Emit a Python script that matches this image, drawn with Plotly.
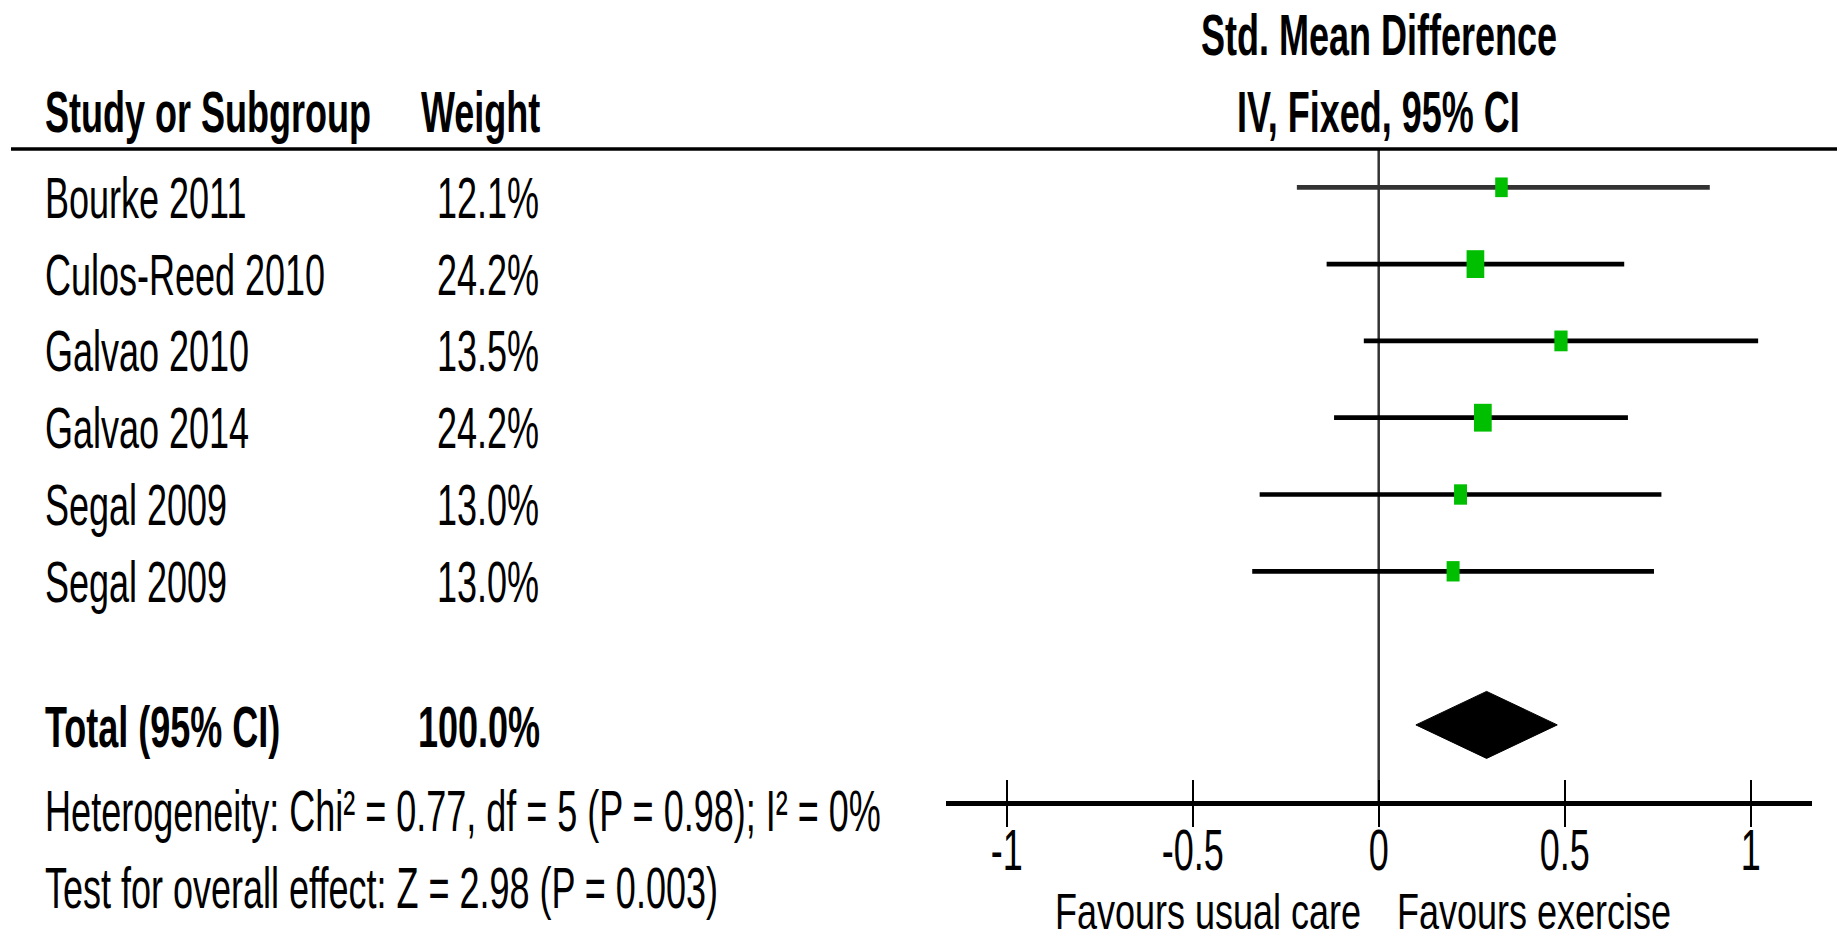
import math
import plotly.graph_objects as go

# ---------------- data ----------------
studies = ["Bourke 2011", "Culos-Reed 2010", "Galvao 2010", "Galvao 2014", "Segal 2009", "Segal 2009"]
weights = [12.1, 24.2, 13.5, 24.2, 13.0, 13.0]
smd = [0.33, 0.26, 0.49, 0.28, 0.22, 0.20]
ci_low = [-0.22, -0.14, -0.04, -0.12, -0.32, -0.34]
ci_high = [0.89, 0.66, 1.02, 0.67, 0.76, 0.74]

total_label = "Total (95% CI)"
total_weight = 100.0
total_smd = 0.29
total_low = 0.10
total_high = 0.48

heterogeneity_text = "Heterogeneity: Chi² = 0.77, df = 5 (P = 0.98); I² = 0%"
overall_text = "Test for overall effect: Z = 2.98 (P = 0.003)"
header_study = "Study or Subgroup"
header_weight = "Weight"
header_effect_1 = "Std. Mean Difference"
header_effect_2 = "IV, Fixed, 95% CI"
tick_vals = [-1, -0.5, 0, 0.5, 1]
tick_text = ["-1", "-0.5", "0", "0.5", "1"]
left_label = "Favours usual care"
right_label = "Favours exercise"

# ---------------- layout geometry / style ----------------
W, H = 1837, 940
X_LEFT_PX, X_RIGHT_PX = 946, 1812
ZERO_PX, UNIT_PX = 1378.7, 372.0
Y_TOP_PX, Y_BOT_PX = 150, 801
ROW0_PX, ROW_PX = 187.3, 76.8
x_range = [(X_LEFT_PX - ZERO_PX) / UNIT_PX, (X_RIGHT_PX - ZERO_PX) / UNIT_PX]
y_range = [(Y_BOT_PX - ROW0_PX) / ROW_PX, (Y_TOP_PX - ROW0_PX) / ROW_PX]
total_row = len(studies) + 1

FONT = "Liberation Sans, Arial, sans-serif"
FS = 36
GREEN = "#00BF00"
line_colors = ["#333333"] + ["#000000"] * (len(studies) - 1)
SQ_PX = 3.6          # square side (px) per sqrt(weight)
SQ_ASPECT = 1.57     # height / width of the weight boxes
DIAMOND_HALF_PX = 33.5


def px_x(p):
    return p / W


def px_y(p):
    return 1 - p / H


fig = go.Figure()

# confidence interval lines
for i in range(len(studies)):
    fig.add_trace(go.Scatter(
        x=[ci_low[i], ci_high[i]], y=[i, i], mode="lines",
        line=dict(color=line_colors[i], width=4.7),
        hoverinfo="skip", showlegend=False))

# weight boxes
for i in range(len(studies)):
    side = SQ_PX * math.sqrt(weights[i])
    hw = side / 2 / UNIT_PX
    hh = side * SQ_ASPECT / 2 / ROW_PX
    c = smd[i]
    fig.add_trace(go.Scatter(
        x=[c - hw, c + hw, c + hw, c - hw, c - hw],
        y=[i - hh, i - hh, i + hh, i + hh, i - hh],
        mode="lines", fill="toself", fillcolor=GREEN,
        line=dict(width=0, color=GREEN),
        hoverinfo="skip", showlegend=False))

# pooled diamond
dh = DIAMOND_HALF_PX / ROW_PX
fig.add_trace(go.Scatter(
    x=[total_low, total_smd, total_high, total_smd, total_low],
    y=[total_row, total_row - dh, total_row, total_row + dh, total_row],
    mode="lines", fill="toself", fillcolor="#000000",
    line=dict(width=1, color="#000000"),
    hoverinfo="skip", showlegend=False))

# empty trace that activates the overlay axis (upward tick marks)
fig.add_trace(go.Scatter(x=[], y=[], xaxis="x2", yaxis="y", showlegend=False))

axis_font = dict(family=FONT, size=FS, color="#000000")
fig.update_layout(
    width=W, height=H, autosize=False,
    margin=dict(l=0, r=0, t=0, b=0),
    paper_bgcolor="white", plot_bgcolor="white",
    showlegend=False,
    xaxis=dict(
        domain=[px_x(X_LEFT_PX), px_x(X_RIGHT_PX)], range=x_range,
        showline=True, linewidth=4.5, linecolor="#000000",
        ticks="outside", ticklen=21, tickwidth=2.3, tickcolor="#000000",
        tickvals=tick_vals, ticktext=tick_text, tickfont=axis_font,
        ticklabelstandoff=-7,
        showgrid=False, zeroline=False, anchor="y", fixedrange=True),
    xaxis2=dict(
        domain=[px_x(X_LEFT_PX), px_x(X_RIGHT_PX)], range=x_range,
        overlaying="x", anchor="y", side="bottom",
        ticks="inside", ticklen=21, tickwidth=2.3, tickcolor="#000000",
        tickvals=tick_vals, showticklabels=False,
        showline=False, showgrid=False, zeroline=False, fixedrange=True),
    yaxis=dict(
        domain=[px_y(Y_BOT_PX), px_y(Y_TOP_PX)], range=y_range,
        visible=False, fixedrange=True),
)

# zero (no-effect) line and header rule
fig.add_shape(type="line", xref="x", yref="y domain", x0=0, x1=0, y0=0, y1=1,
              line=dict(color="#333333", width=2.5), layer="below")
fig.add_shape(type="line", xref="paper", yref="paper", x0=px_x(11), x1=1,
              y0=px_y(149), y1=px_y(149), line=dict(color="#000000", width=3.7))


def note(text, x, y, xanchor="left", xref="paper", yref="paper", yshift=0, xshift=0):
    fig.add_annotation(text=text, x=x, y=y, xref=xref, yref=yref,
                       xanchor=xanchor, yanchor="middle", showarrow=False,
                       xshift=xshift, yshift=yshift, borderpad=0,
                       font=dict(family=FONT, size=FS, color="#000000"))


# headers
note("<b>" + header_study + "</b>", px_x(44), px_y(113))
note("<b>" + header_weight + "</b>", px_x(420), px_y(113))
note("<b>" + header_effect_1 + "</b>", 0, px_y(35), xanchor="center", xref="x")
note("<b>" + header_effect_2 + "</b>", 0, px_y(113), xanchor="center", xref="x")

# study rows
for i, name in enumerate(studies):
    note(name, px_x(44), i, yref="y", yshift=-11)
    note(f"{weights[i]:.1f}%", px_x(540), i, xanchor="right", yref="y", yshift=-11)

# total row
note("<b>" + total_label + "</b>", px_x(44), total_row, yref="y", yshift=-3)
note("<b>" + f"{total_weight:.1f}%" + "</b>", px_x(541), total_row, xanchor="right", yref="y", yshift=-3)

# footnotes
note(heterogeneity_text, px_x(44), px_y(811))
note(overall_text, px_x(44), px_y(888))

# favours labels
note(left_label, 0, px_y(911), xanchor="right", xref="x", xshift=-17)
note(right_label, 0, px_y(911), xanchor="left", xref="x", xshift=17)

# page without default body margin; the reference uses tall, horizontally
# compressed lettering, so stretch the text vertically (a bit less for the
# bottom labels so they stay inside the page)
post = r"""
document.documentElement.style.margin = '0';
document.body.style.margin = '0';
document.body.style.overflow = 'hidden';
var gd = document.querySelector('.js-plotly-plot');
function squish(){
  gd.querySelectorAll('text.annotation-text, .xtick > text').forEach(function(t){
    var k = (t.textContent.indexOf('Favours') === 0) ? 1.4 : 1.6;
    var tr = (t.getAttribute('transform') || '').replace(/ ?translate\(0,[^)]*\) scale\(1,[^)]*\) translate\(0,[^)]*\)$/, '');
    var b = t.getBBox();
    var cy = b.y + b.height / 2;
    t.setAttribute('transform', tr + ' translate(0,' + cy + ') scale(1,' + k + ') translate(0,' + (-cy) + ')');
  });
}
squish();
gd.on('plotly_afterplot', squish);
"""

fig.write_html("out.html", post_script=post, config={"displayModeBar": False})
